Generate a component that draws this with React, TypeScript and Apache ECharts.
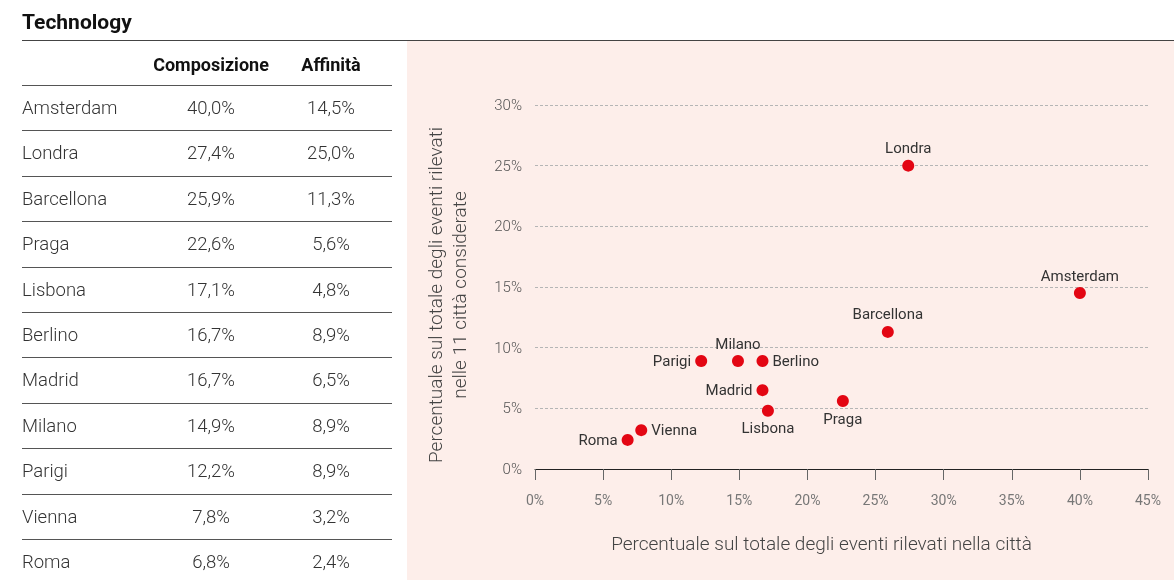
import React, { useEffect, useRef } from "react";
import * as echarts from "echarts";

const title = "Technology";
const headers = ["Composizione", "Affinità"];
const cities = ["Amsterdam", "Londra", "Barcellona", "Praga", "Lisbona", "Berlino", "Madrid", "Milano", "Parigi", "Vienna", "Roma"];
const composizione = [40.0, 27.4, 25.9, 22.6, 17.1, 16.7, 16.7, 14.9, 12.2, 7.8, 6.8];
const affinita = [14.5, 25.0, 11.3, 5.6, 4.8, 8.9, 6.5, 8.9, 8.9, 3.2, 2.4];
const xAxisName = "Percentuale sul totale degli eventi rilevati nella città";
const yAxisName = "Percentuale sul totale degli eventi rilevati\nnelle 11 città considerate";

const labelPlacement: Record<string, string> = {
  Amsterdam: "top", Londra: "top", Barcellona: "top", Praga: "bottom", Lisbona: "bottom",
  Berlino: "right", Madrid: "left", Milano: "top", Parigi: "left", Vienna: "right", Roma: "left",
};

const FONT = "Roboto, 'Noto Sans', sans-serif";
const fmt = (v: number) => v.toFixed(1).replace(".", ",") + "%";

export default function App() {
  const ref = useRef<HTMLDivElement>(null);
  useEffect(() => {
    document.body.style.margin = "0";
    const chart = echarts.init(ref.current!, null, { renderer: "svg" });
    const graphic: any[] = [];
    graphic.push({ type: "rect", z: -10, shape: { x: 407, y: 41, width: 767, height: 539 }, style: { fill: "#fdeeea" } });
    graphic.push({ type: "text", x: 22, y: 22, style: { text: title, fontFamily: FONT, fontSize: 21, fontWeight: "bold", fill: "#111", textVerticalAlign: "middle" } });
    graphic.push({ type: "line", shape: { x1: 22, y1: 40.5, x2: 1174, y2: 40.5 }, style: { stroke: "#444", lineWidth: 1 } });
    const colX = [211, 331];
    headers.forEach((h, i) => {
      graphic.push({ type: "text", x: colX[i], y: 64, style: { text: h, fontFamily: FONT, fontSize: 18, fontWeight: "bold", fill: "#111", textAlign: "center", textVerticalAlign: "middle" } });
    });
    const step = 45.4;
    for (let i = 0; i <= cities.length - 1; i++) {
      const ly = Math.round(85 + i * step) + 0.5;
      graphic.push({ type: "line", shape: { x1: 22, y1: ly, x2: 392, y2: ly }, style: { stroke: "#555", lineWidth: 1 } });
    }
    cities.forEach((c, i) => {
      const cy = 108 + i * step;
      const st = { fontFamily: FONT, fontSize: 18.5, fontWeight: 300, fill: "#333", textVerticalAlign: "middle" };
      graphic.push({ type: "text", x: 22, y: cy, style: { ...st, text: c } });
      graphic.push({ type: "text", x: colX[0], y: cy, style: { ...st, text: fmt(composizione[i]), textAlign: "center" } });
      graphic.push({ type: "text", x: colX[1], y: cy, style: { ...st, text: fmt(affinita[i]), textAlign: "center" } });
    });

    const data = cities.map((c, i) => ({
      name: c,
      value: [composizione[i], affinita[i]],
      label: { position: labelPlacement[c] },
    }));

    chart.setOption({
      animation: false,
      textStyle: { fontFamily: FONT },
      grid: { left: 535, right: 26, top: 105, bottom: 111 },
      graphic,
      xAxis: {
        type: "value", min: 0, max: 45, interval: 5,
        axisLine: { show: true, lineStyle: { color: "#222", width: 1 } },
        axisTick: { show: true, length: 11, lineStyle: { color: "#666" } },
        splitLine: { show: false },
        axisLabel: { formatter: "{value}%", color: "#777", fontSize: 14, margin: 24 },
        name: xAxisName, nameLocation: "middle", nameGap: 65,
        nameTextStyle: { color: "#444", fontSize: 19, fontWeight: 300, padding: [0, 40, 0, 0] },
      },
      yAxis: {
        type: "value", min: 0, max: 30, interval: 5,
        axisLine: { show: false }, axisTick: { show: false },
        splitLine: { show: true, lineStyle: { color: "#b5b5b5", type: [3, 2], width: 1 } },
        axisLabel: { formatter: "{value}%", color: "#555", fontSize: 15, fontWeight: 300, margin: 13 },
        name: yAxisName, nameLocation: "middle", nameGap: 64,
        nameTextStyle: { color: "#444", fontSize: 19, fontWeight: 300, lineHeight: 24, align: "center", padding: [0, 16, 0, 0] },
      },
      series: [{
        type: "scatter",
        symbolSize: 12,
        itemStyle: { color: "#e30613", opacity: 1 },
        label: { show: true, formatter: "{b}", color: "#333", fontSize: 15, distance: 4 },
        data,
      }],
    });
    return () => chart.dispose();
  }, []);
  return <div ref={ref} style={{ position: "fixed", left: 0, top: 0, width: 1174, height: 580 }} />;
}
